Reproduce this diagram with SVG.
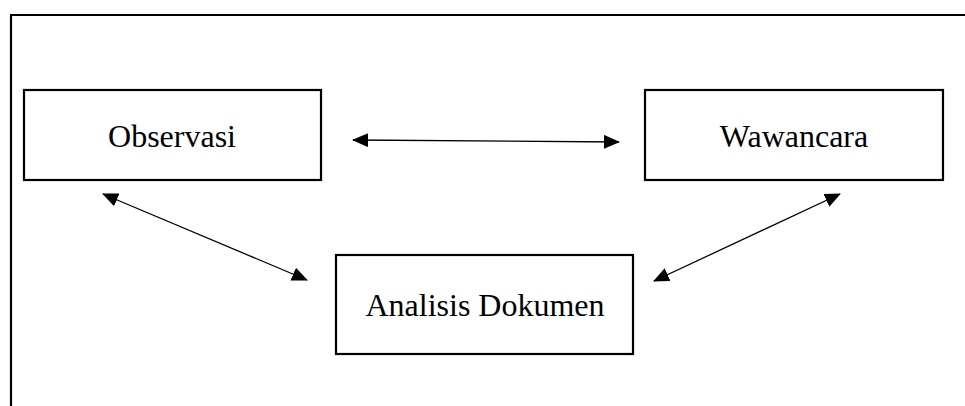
<svg xmlns="http://www.w3.org/2000/svg" width="965" height="406" viewBox="0 0 965 406">
<style>
.box{fill:#fff;stroke:#000;stroke-width:2.2}
.lbl{font-family:"Liberation Serif","Times New Roman",serif;font-size:32px;fill:#000;text-anchor:middle}
.con{stroke:#000;stroke-width:1.3;fill:none;marker-start:url(#ah);marker-end:url(#ah)}
</style>
<defs>
<marker id="ah" viewBox="0 0 16 14" refX="15" refY="7" markerWidth="16" markerHeight="14" markerUnits="userSpaceOnUse" orient="auto-start-reverse">
<path d="M0,0 L16,7 L0,14 Z" fill="#000"/>
</marker>
</defs>
<rect width="965" height="406" fill="#fff"/>
<g id="frame">
<path d="M11,406 V15 H965" fill="none" stroke="#000" stroke-width="2.2"/>
</g>
<g id="observasi">
<rect class="box" x="24" y="90" width="297" height="90"/>
<text class="lbl" x="172" y="147">Observasi</text>
</g>
<g id="wawancara">
<rect class="box" x="645" y="90" width="298" height="90"/>
<text class="lbl" x="794" y="147">Wawancara</text>
</g>
<g id="analisis">
<rect class="box" x="336" y="255" width="297" height="99"/>
<text class="lbl" x="485" y="316">Analisis Dokumen</text>
</g>
<g id="connectors">
<line class="con" x1="353" y1="140" x2="619" y2="142"/>
<line class="con" x1="103" y1="194" x2="307" y2="280"/>
<line class="con" x1="840" y1="194" x2="654" y2="281"/>
</g>
</svg>
